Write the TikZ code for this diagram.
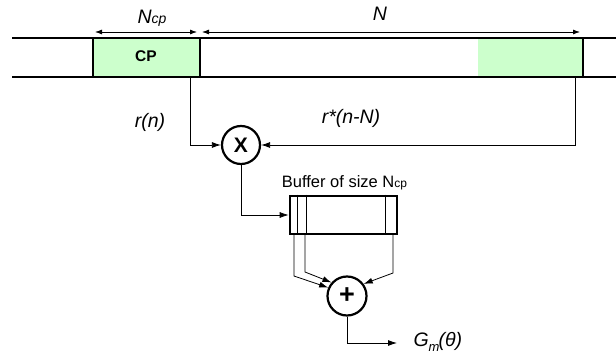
\documentclass[tikz,border=0pt]{standalone}
\usepackage{fontspec}
\setmainfont{Liberation Sans}
\usetikzlibrary{arrows.meta,positioning,calc}
\definecolor{cpcolor}{RGB}{204,255,204}

\begin{document}
\begin{tikzpicture}[x=1pt,y=-1pt,
    sig/.style={line width=0.8pt,-{Latex[length=9pt,width=6pt]}},
    dim/.style={line width=0.8pt,{Latex[length=7pt,width=5pt]}-{Latex[length=7pt,width=5pt]}},
    op/.style={circle,draw,line width=2.2pt,minimum size=38pt,inner sep=0pt,font=\fontsize{21}{21}\selectfont\bfseries},
    lbl/.style={anchor=base,font=\fontsize{19.5}{19.5}\selectfont\itshape}]
    \useasboundingbox (0,0) rectangle (616,358);
    \fill[cpcolor] (93,38) rectangle (200,77);
    \fill[cpcolor] (478,38) rectangle (583,77);
    \draw[line width=2.7pt] (12,38) -- (616,38);
    \draw[line width=2.7pt] (12,77) -- (616,77);
    \draw[line width=1.6pt] (93,38) -- (93,77);
    \draw[line width=2.7pt] (200,38) -- (200,77);
    \draw[line width=2.7pt] (583,38) -- (583,77);
    \node[font=\fontsize{15.5}{15.5}\selectfont\bfseries] (cp) at (146,56) {CP};
    \draw[dim] (95,32) -- (197,32);
    \draw[dim] (202,32) -- (580,32);
    \node[lbl] (ncp) at (152,24) {N{\fontsize{14}{14}\selectfont cp}};
    \node[lbl] (nlen) at (380,21) {N};
    \node[op] (mult) at (241,145) {X};
    \node[op,minimum size=39pt,font=\fontsize{27}{27}\selectfont\bfseries] (add) at (347,296) {+};
    \node[draw,line width=2.6pt,minimum width=107pt,minimum height=38pt,inner sep=0pt] (buf) at (343.5,215) {};
    \foreach \dx in {9,18,97}
      \draw[line width=0.8pt] ($(buf.north west)+(\dx,0)$) -- ($(buf.south west)+(\dx,0)$);
    \node[anchor=base,font=\fontsize{16.5}{16.5}\selectfont] (buflbl) at (344.5,188) {Buffer of size N{\fontsize{12}{12}\selectfont cp}};
    \coordinate (rtap) at (190,77);
    \coordinate (rstap) at (575,77);
    \draw[sig] (rtap) |- (mult.west);
    \draw[sig] (rstap) |- (mult.east);
    \node[lbl] (rn) at (150,128) {r(n)};
    \node[lbl] (rsn) at (351,124) {r*(n-N)};
    \draw[sig] (mult.south) |- (buf.west);
    \coordinate (b1) at (294,234);
    \coordinate (b2) at (305,234);
    \coordinate (b3) at (393,234);
    \draw[sig] (b1) -- ++(0,42) -- (add.156);
    \draw[sig] (b2) -- ++(0,38) -- (add.139);
    \draw[sig] (b3) -- ++(0,39) -- (add.36);
    \node[lbl,anchor=base west] (gm) at (410,346.5) {G\raisebox{-5pt}{\fontsize{13}{13}\selectfont m}\kern-1pt(\textit{θ})};
    \coordinate (gout) at (397,343);
    \draw[sig] (add.south) |- (gout);
\end{tikzpicture}
\end{document}
